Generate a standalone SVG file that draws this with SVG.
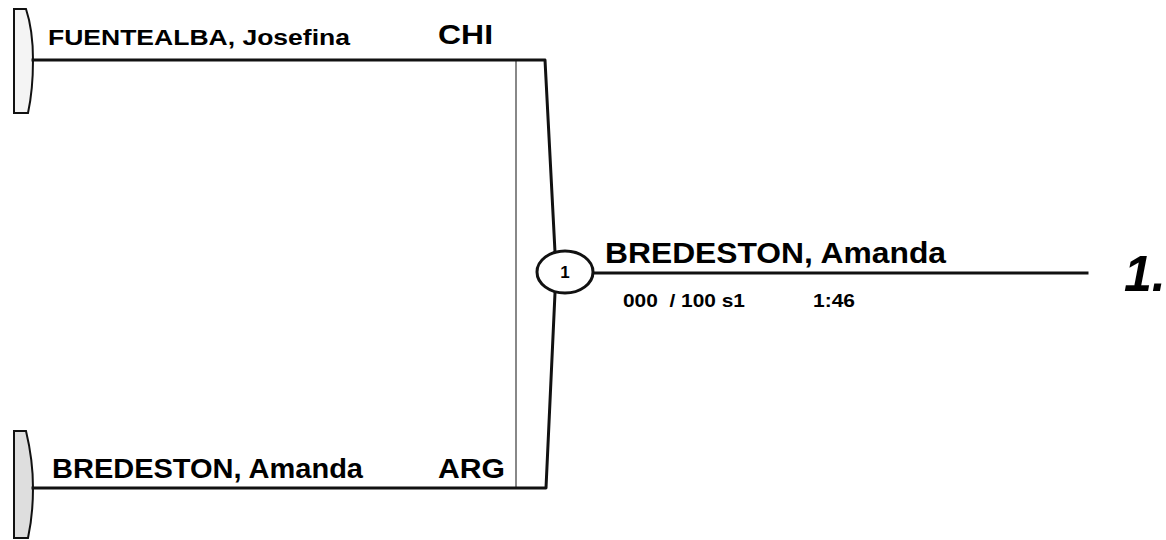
<svg xmlns="http://www.w3.org/2000/svg" width="1166" height="540" viewBox="0 0 1166 540">
<style>
.ln{fill:none;stroke:#111;stroke-width:3;stroke-linejoin:round;stroke-linecap:square}
.thin{fill:none;stroke:#888;stroke-width:2}
.t{font-family:"Liberation Sans",Arial,sans-serif;font-weight:bold;fill:#000}
.cap{stroke:#111;stroke-width:2}
</style>
<rect width="1166" height="540" fill="#fff"/>
<g id="player1">
<path class="cap" d="M14,9 L26,9 Q33,30 33,60 Q33,90 28,113 L14,113 Z" fill="#f4f4f4"/>
<text class="t" x="48" y="45" font-size="22" textLength="302" lengthAdjust="spacingAndGlyphs">FUENTEALBA, Josefina</text>
<text class="t" x="438" y="44" font-size="27" textLength="55" lengthAdjust="spacingAndGlyphs">CHI</text>
</g>
<g id="player2">
<path class="cap" d="M14,431 L26,431 Q33,460 33,488 Q33,515 28,538 L14,538 Z" fill="#dedede"/>
<text class="t" x="52" y="478" font-size="27" textLength="311" lengthAdjust="spacingAndGlyphs">BREDESTON, Amanda</text>
<text class="t" x="438" y="478" font-size="27" textLength="67" lengthAdjust="spacingAndGlyphs">ARG</text>
</g>
<g id="connectors">
<line class="thin" x1="516" y1="60" x2="516" y2="488"/>
<path class="ln" d="M33,60 L545,60 L555,252"/>
<path class="ln" d="M33,488 L546,488 L555,293"/>
<line class="ln" x1="592" y1="273" x2="1087" y2="273"/>
</g>
<g id="match1">
<ellipse cx="565" cy="272" rx="28" ry="21" fill="#fff" stroke="#111" stroke-width="3"/>
<text class="t" x="565" y="278" font-size="17" text-anchor="middle">1</text>
</g>
<g id="winner">
<text class="t" x="605" y="263" font-size="29" textLength="341" lengthAdjust="spacingAndGlyphs">BREDESTON, Amanda</text>
<text class="t" x="623" y="307" font-size="19" textLength="122" lengthAdjust="spacingAndGlyphs" xml:space="preserve">000  / 100 s1</text>
<text class="t" x="813" y="307" font-size="19" textLength="42" lengthAdjust="spacingAndGlyphs">1:46</text>
<text class="t" x="1124" y="291" font-size="50" font-style="italic">1.</text>
</g>
</svg>
